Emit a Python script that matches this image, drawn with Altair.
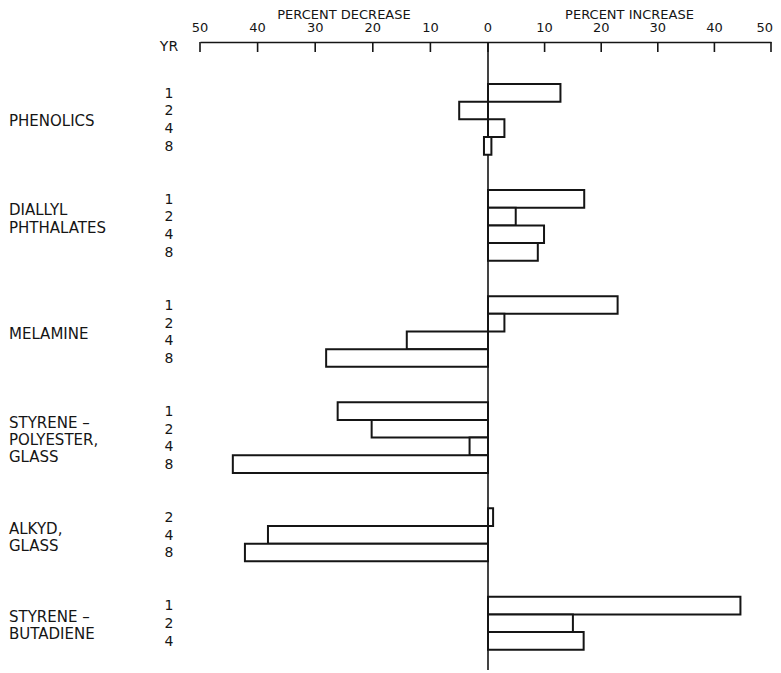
import altair as alt
import pandas as pd

# ---- data ----
groups = ["PHENOLICS", "DIALLYL PHTHALATES", "MELAMINE",
          "STYRENE-POLYESTER, GLASS", "ALKYD, GLASS", "STYRENE-BUTADIENE"]
label_lines = [["PHENOLICS"], ["DIALLYL", "PHTHALATES"], ["MELAMINE"],
               ["STYRENE –", "POLYESTER,", "GLASS"], ["ALKYD,", "GLASS"],
               ["STYRENE –", "BUTADIENE"]]
years = [[1, 2, 4, 8], [1, 2, 4, 8], [1, 2, 4, 8], [1, 2, 4, 8], [2, 4, 8], [1, 2, 4]]
values = [[12.8, -5.0, 2.9, 0.6],
          [17.0, 4.9, 9.9, 8.8],
          [22.9, 2.9, -14.1, -28.1],
          [-26.1, -20.2, -3.2, -44.3],
          [0.9, -38.2, -42.2],
          [44.6, 15.0, 16.9]]
# the one bar that straddles zero (phenolics, 8 yr) starts slightly left of 0
bar_starts = {("PHENOLICS", 8): -0.7}
tick_values = [-50, -40, -30, -20, -10, 0, 10, 20, 30, 40, 50]
axis_titles = ["PERCENT DECREASE", "PERCENT INCREASE"]
axis_title_x = [-25, 25]

FONT = "DejaVu Sans"
INK = "#151515"
GAP = 2  # empty rows between groups

bar_rows, year_rows, label_rows = [], [], []
start = 0
for g, lines, yrs, vals in zip(groups, label_lines, years, values):
    for i, (yr, v) in enumerate(zip(yrs, vals)):
        bar_rows.append({"group": g, "year": yr, "y0": start + i, "y1": start + i + 1,
                         "x0": bar_starts.get((g, yr), 0.0), "x1": v})
        year_rows.append({"txt": str(yr), "ym": start + i + 0.55})
    offset = 1 if len(lines) == 1 else 0
    for k, line in enumerate(lines):
        label_rows.append({"txt": line, "ym": start + 1.15 + (k + offset) * 0.97})
    start += len(yrs) + GAP

bars_df = pd.DataFrame(bar_rows)
years_df = pd.DataFrame(year_rows + [{"txt": "YR", "ym": -2.1}])
labels_df = pd.DataFrame(label_rows)
ticks_df = pd.DataFrame({"v": tick_values, "txt": [str(abs(v)) for v in tick_values]})
titles_df = pd.DataFrame({"txt": axis_titles, "v": axis_title_x})

W, H = 571, 628
# hand-drawn original: the left half is slightly wider than the right half
xscale = alt.Scale(domain=[-50, 0, 50], range=[0, 288, W], nice=False, zero=False)
yscale = alt.Scale(domain=[-2.375, 33.145], reverse=True, nice=False, zero=False)

bars = alt.Chart(bars_df).mark_rect(fill="white", stroke=INK, strokeWidth=2).encode(
    x=alt.X("x0:Q", scale=xscale,
            axis=alt.Axis(orient="top", values=tick_values, labels=False,
                          ticks=False, grid=False, domain=True, domainColor=INK,
                          domainWidth=1.6, title=None)),
    x2="x1:Q",
    y=alt.Y("y0:Q", scale=yscale, axis=None),
    y2="y1:Q",
)

ticks = alt.Chart(ticks_df).mark_rule(color=INK, strokeWidth=1.6).encode(
    x=alt.X("v:Q", scale=xscale),
    y=alt.value(0), y2=alt.value(10),
)

tick_labels = alt.Chart(ticks_df).transform_filter("datum.v < 50").mark_text(
    font=FONT, fontSize=13, color=INK, baseline="middle", align="center").encode(
    x=alt.X("v:Q", scale=xscale), y=alt.value(-14), text="txt:N",
)
# the last label sits at the very edge of the page
tick_label_last = alt.Chart(ticks_df).transform_filter("datum.v >= 50").mark_text(
    font=FONT, fontSize=13, color=INK, baseline="middle", align="right", dx=2).encode(
    x=alt.X("v:Q", scale=xscale), y=alt.value(-14), text="txt:N",
)

zero_line = alt.Chart(pd.DataFrame({"v": [0]})).mark_rule(color=INK, strokeWidth=1.6).encode(
    x=alt.X("v:Q", scale=xscale),
    y=alt.value(0), y2=alt.value(H),
)

titles = alt.Chart(titles_df).mark_text(font=FONT, fontSize=13, color=INK,
                                        baseline="middle", align="center").encode(
    x=alt.X("v:Q", scale=xscale), y=alt.value(-27.5), text="txt:N",
)

year_text = alt.Chart(years_df).mark_text(font=FONT, fontSize=14, color=INK,
                                          baseline="middle", align="center").encode(
    x=alt.value(-31), y=alt.Y("ym:Q", scale=yscale), text="txt:N",
)

group_text = alt.Chart(labels_df).mark_text(font=FONT, fontSize=15, color=INK,
                                            baseline="middle", align="left").encode(
    x=alt.value(-191), y=alt.Y("ym:Q", scale=yscale), text="txt:N",
)

chart = alt.layer(zero_line, bars, ticks, tick_labels, tick_label_last, titles,
                  year_text, group_text).properties(
    width=W, height=H,
    padding={"left": 192, "top": 34, "right": 2, "bottom": 2},
    autosize=alt.AutoSizeParams(type="none"),
).configure(background="white").configure_view(strokeWidth=0, stroke="transparent")

chart.save("out.html", embed_options={"renderer": "svg", "actions": False})
